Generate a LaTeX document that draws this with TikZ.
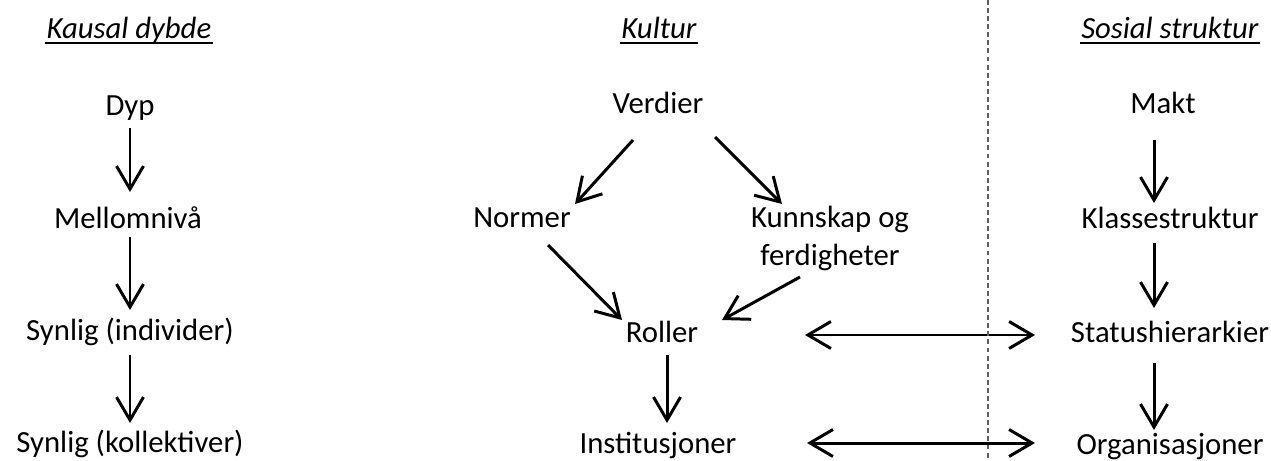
\documentclass[tikz,border=0pt]{standalone}
\usepackage{fontspec}
\setmainfont{Carlito}
\usetikzlibrary{arrows.meta, positioning}

\begin{document}
\begin{tikzpicture}[x=0.02cm,y=-0.02cm,>={Straight Barb[length=4.6mm,width=5.4mm]},
  every node/.style={font=\fontsize{17.5}{21.5}\selectfont,inner sep=0pt,anchor=base},
  pil/.style={->,line width=1.7pt},
  strek/.style={line width=0.9pt}]
\useasboundingbox (0,0) rectangle (1271,460);
% overskrifter
\node at (129,38) (H1) {\textit{Kausal dybde}};
\node at (659,38) (H2) {\textit{Kultur}};
\node at (1170,38) (H3) {\textit{Sosial struktur}};
\foreach \h in {H1,H2,H3}
  \draw[strek] ([shift={(-1,5)}]\h.base west) -- ([shift={(1,5)}]\h.base east);
% kausal dybde
\node at (130,115) (A) {Dyp};
\node at (128,228) (B) {Mellomnivå};
\node at (130,340) (C) {Synlig (individer)};
\node at (130,452) (D) {Synlig (kollektiver)};
% kultur
\node at (658,113) (V) {Verdier};
\node at (522,227) (N) {Normer};
\node[align=center] at (830,265) (K) {Kunnskap og\\ ferdigheter};
\node at (662,342) (R) {Roller};
\node at (658,453) (I) {Institusjoner};
% sosial struktur
\node at (1163,113) (M) {Makt};
\node at (1170,228) (KS) {Klassestruktur};
\node at (1170,342) (S) {Statushierarkier};
\node at (1170,454) (O) {Organisasjoner};
\coordinate (top) at (988,0);
\coordinate (bot) at (988,460);
\draw[pil] ([shift={(0,13)}]A.base) -- ([shift={(2,-36)}]B.base);
\draw[pil] ([shift={(2,9)}]B.base) -- ([shift={(0,-30)}]C.base);
\draw[pil] ([shift={(0,15)}]C.base) -- ([shift={(0,-29)}]D.base);
\draw[pil] ([shift={(-25,27)}]V.base) -- ([shift={(53,-23)}]N.base);
\draw[pil] ([shift={(57,24)}]V.base) -- ([shift={(-48,-61)}]K.base);
\draw[pil] ([shift={(26,18)}]N.base) -- ([shift={(-40,-22)}]R.base);
\draw[pil] ([shift={(-30,12)}]K.base) -- ([shift={(60,-22)}]R.base);
\draw[pil] ([shift={(5,13)}]R.base) -- ([shift={(9,-30)}]I.base);
\draw[pil] ([shift={(-9,27)}]M.base) -- ([shift={(-16,-25)}]KS.base);
\draw[pil] ([shift={(-16,15)}]KS.base) -- ([shift={(-16,-34)}]S.base);
\draw[pil] ([shift={(-16,21)}]S.base) -- ([shift={(-16,-24)}]O.base);
\draw[pil,<->] ([shift={(143,-7)}]R.base) -- ([shift={(-135,-7)}]S.base);
\draw[pil,<->] ([shift={(149,-10)}]I.base) -- ([shift={(-135,-11)}]O.base);
\draw[line width=0.8pt,gray!75!black,dash pattern=on 2.8pt off 1.8pt] (top) -- (bot);
\end{tikzpicture}
\end{document}
